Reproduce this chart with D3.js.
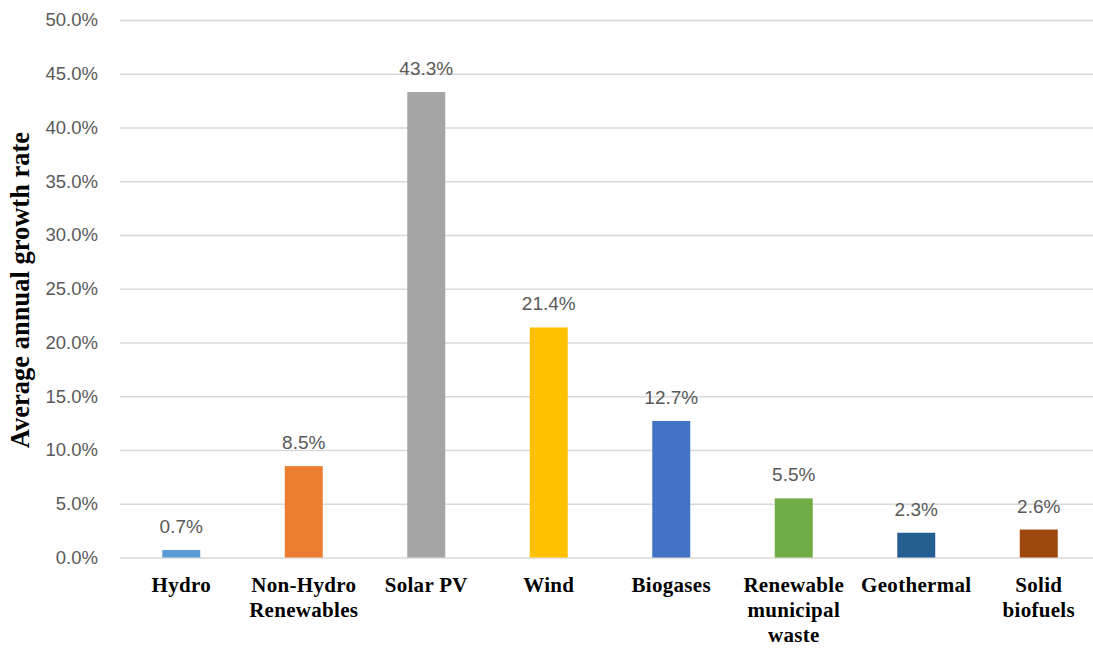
<!DOCTYPE html>
<html>
<head>
<meta charset="utf-8">
<script src="https://cdn.jsdelivr.net/npm/d3@7"></script>
<style>
  html, body { margin: 0; padding: 0; background: #fff; }
  svg { display: block; }
</style>
</head>
<body>
<svg id="chart" width="1093" height="648"></svg>
<script>
// Average annual growth rate by renewable source
const categories = ["Hydro", "Non-Hydro Renewables", "Solar PV", "Wind", "Biogases",
                    "Renewable municipal waste", "Geothermal", "Solid biofuels"];
const categoryLines = [["Hydro"], ["Non-Hydro", "Renewables"], ["Solar PV"], ["Wind"],
                       ["Biogases"], ["Renewable", "municipal", "waste"], ["Geothermal"],
                       ["Solid", "biofuels"]];
const growthRates = [0.7, 8.5, 43.3, 21.4, 12.7, 5.5, 2.3, 2.6];
const barColors = ["#5B9BD5", "#ED7D31", "#A5A5A5", "#FFC000", "#4472C4",
                   "#70AD47", "#255E91", "#9E480E"];
const yTicks = [0, 5, 10, 15, 20, 25, 30, 35, 40, 45, 50];
const yTitle = "Average annual growth rate";

const svg = d3.select("#chart");
const plot = { x0: 120, x1: 1100, y0: 20, y1: 557.5 };

const x = d3.scaleBand().domain(categories).range([plot.x0, plot.x1]).paddingInner(0.69).paddingOuter(0.345);
const y = d3.scaleLinear().domain([0, 50]).range([plot.y1, plot.y0]);

// Gridlines and tick labels
const yAxis = d3.axisLeft(y).tickValues(yTicks).tickFormat(d => d.toFixed(1) + "%")
  .tickSize(-(plot.x1 - plot.x0)).tickPadding(22);
const gy = svg.append("g").attr("transform", `translate(${plot.x0},0)`).call(yAxis);
gy.select(".domain").remove();
gy.selectAll(".tick line").attr("stroke", "#d9d9d9").attr("stroke-width", 1.5);
gy.selectAll(".tick text")
  .attr("fill", "#595959")
  .style("font-family", "'Liberation Sans', Arial, sans-serif")
  .style("font-size", "18.5px");

// Bars
svg.append("g").selectAll("rect")
  .data(categories)
  .join("rect")
  .attr("x", d => x(d))
  .attr("width", x.bandwidth())
  .attr("y", (d, i) => y(growthRates[i]))
  .attr("height", (d, i) => y(0) - y(growthRates[i]))
  .attr("fill", (d, i) => barColors[i]);

// Value labels
svg.append("g").selectAll("text")
  .data(categories)
  .join("text")
  .attr("x", d => x(d) + x.bandwidth() / 2)
  .attr("y", (d, i) => y(growthRates[i]) - 17)
  .attr("text-anchor", "middle")
  .attr("fill", "#595959")
  .style("font-family", "'Liberation Sans', Arial, sans-serif")
  .style("font-size", "19px")
  .text((d, i) => growthRates[i].toFixed(1) + "%");

// Category labels
const xl = svg.append("g").selectAll("text")
  .data(categories)
  .join("text")
  .attr("x", d => x(d) + x.bandwidth() / 2)
  .attr("y", 592)
  .attr("text-anchor", "middle")
  .attr("fill", "#000")
  .style("font-family", "'Liberation Serif', 'Times New Roman', serif")
  .style("font-weight", "bold")
  .style("font-size", "21px")
  .style("letter-spacing", "0.3px");
xl.selectAll("tspan")
  .data((d, i) => categoryLines[i].map(t => ({ t, cx: x(d) + x.bandwidth() / 2 })))
  .join("tspan")
  .attr("x", d => d.cx)
  .attr("dy", (d, j) => j === 0 ? 0 : 25)
  .text(d => d.t);

// Y-axis title
svg.append("text")
  .attr("transform", "translate(29,290) rotate(-90)")
  .attr("text-anchor", "middle")
  .attr("fill", "#000")
  .style("font-family", "'Liberation Serif', 'Times New Roman', serif")
  .style("font-weight", "bold")
  .style("font-size", "26.5px")
  .text(yTitle);
</script>
</body>
</html>
